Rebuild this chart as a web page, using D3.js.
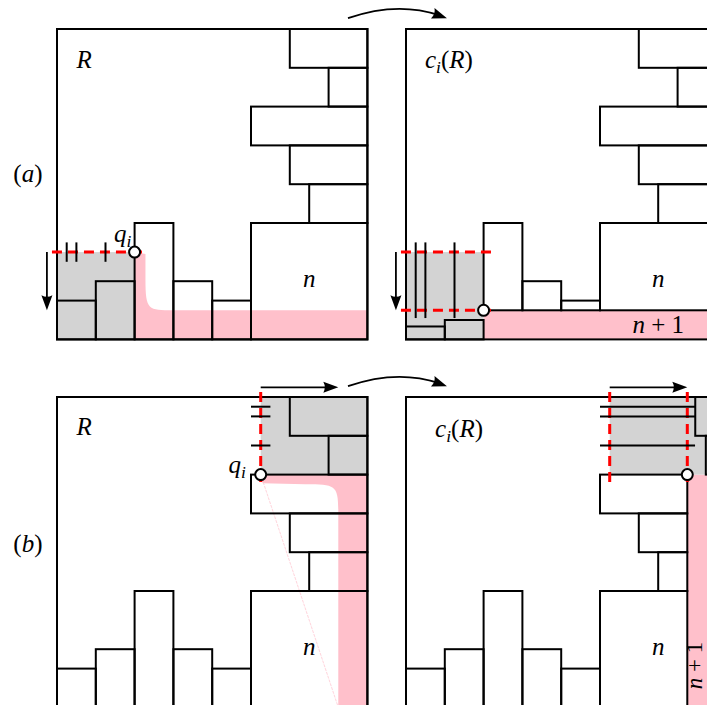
<!DOCTYPE html>
<html>
<head>
<meta charset="utf-8">
<script src="https://cdn.jsdelivr.net/npm/d3@7"></script>
<style>
  body { margin: 0; background: #fff; }
</style>
</head>
<body>
<div id="container"></div>
<script>
const width = 707, height = 705;
const cell = 38.8;   // one grid step in px
const side = 8;      // the square R is 8 x 8 steps

// boxes [x1, y1, x2, y2] in grid steps, y counted down from the top side
const boxesR = [
  [6, 0, 8, 1], [7, 1, 8, 2], [5, 2, 8, 3], [6, 3, 8, 4], [6.5, 4, 8, 5], [5, 5, 8, 8],
  [0, 7, 1, 8], [1, 6.5, 2, 8], [2, 5, 3, 8], [3, 6.5, 4, 8], [4, 7, 5, 8]
];
// c_i(R) in case (a): the strip under q_i is squeezed down
const boxesCa = [
  [6, 0, 8, 1], [7, 1, 8, 2], [5, 2, 8, 3], [6, 3, 8, 4], [6.5, 4, 8, 5], [5, 5, 8, 7.25],
  [0, 7.667, 1, 8], [1, 7.5, 2, 8], [2, 5, 3, 7.25], [3, 6.5, 4, 7.25], [4, 7, 5, 7.25]
];
// c_i(R) in case (b): the strip right of q_i is squeezed to the right
const boxesCb = [
  [7.455, 0, 8, 1], [7.727, 1, 8, 2], [5, 2, 7.25, 3], [6, 3, 7.25, 4], [6.5, 4, 7.25, 5], [5, 5, 7.25, 8],
  [0, 7, 1, 8], [1, 6.5, 2, 8], [2, 5, 3, 8], [3, 6.5, 4, 8], [4, 7, 5, 8]
];

const greyA = [0, 5.75, 2, 8];
const greyB = [5.25, 0, 8, 2];
const pinkCa = [2, 7.25, 8, 8];
const pinkCb = [7.25, 2, 8, 8];
const ticks = [0.25, 0.5, 1.25];
const qA = [2, 5.75], qCa = [2, 7.25], qB = [5.25, 2], qCb = [7.25, 2];
const transition = [[7.5, -0.28], [8.76, -0.72], [10.05, -0.28]];

const svg = d3.select('#container').append('svg')
  .attr('width', width).attr('height', height);

function scales(x0, y0) {
  return [
    d3.scaleLinear().domain([0, side]).range([x0, x0 + side * cell]),
    d3.scaleLinear().domain([0, side]).range([y0, y0 + side * cell])
  ];
}

function rects(g, x, y, data, fill, stroke) {
  g.selectAll(null).data(data).enter().append('rect')
    .attr('x', d => x(d[0]))
    .attr('y', d => y(d[1]))
    .attr('width', d => x(d[2]) - x(d[0]))
    .attr('height', d => y(d[3]) - y(d[1]))
    .attr('fill', fill)
    .attr('stroke', stroke)
    .attr('stroke-width', 2);
}

function lines(g, x, y, data, color, w, dash) {
  g.selectAll(null).data(data).enter().append('line')
    .attr('x1', d => x(d[0])).attr('y1', d => y(d[1]))
    .attr('x2', d => x(d[2])).attr('y2', d => y(d[3]))
    .attr('stroke', color)
    .attr('stroke-width', w)
    .attr('stroke-dasharray', dash);
}

function head(g, tip, from) {
  let a = Math.atan2(tip[1] - from[1], tip[0] - from[0]);
  let L = 15, W = 5.5;
  let bx = tip[0] - L * Math.cos(a), by = tip[1] - L * Math.sin(a);
  let px = -Math.sin(a) * W, py = Math.cos(a) * W;
  g.append('path')
    .attr('d', `M${tip[0]},${tip[1]}L${bx + px},${by + py}Q${bx + 3 * Math.cos(a)},${by + 3 * Math.sin(a)} ${bx - px},${by - py}Z`)
    .attr('fill', '#000');
}

function straightArrow(g, x, y, p0, p1) {
  let a = [x(p0[0]), y(p0[1])], b = [x(p1[0]), y(p1[1])];
  let ang = Math.atan2(b[1] - a[1], b[0] - a[0]);
  g.append('line')
    .attr('x1', a[0]).attr('y1', a[1])
    .attr('x2', b[0] - 10 * Math.cos(ang)).attr('y2', b[1] - 10 * Math.sin(ang))
    .attr('stroke', '#000').attr('stroke-width', 1.8);
  head(g, b, a);
}

function curvedArrow(g, x, y, pts) {
  let p = pts.map(d => [x(d[0]), y(d[1])]);
  let path = d3.path();
  path.moveTo(p[0][0], p[0][1]);
  path.quadraticCurveTo(p[1][0], p[1][1], p[2][0] - 8, p[2][1] - 3);
  g.append('path').attr('d', path.toString())
    .attr('fill', 'none').attr('stroke', '#000').attr('stroke-width', 1.8);
  head(g, p[2], p[1]);
}

function circle(g, x, y, q) {
  g.append('circle')
    .attr('cx', x(q[0])).attr('cy', y(q[1])).attr('r', 5.5)
    .attr('fill', '#fff').attr('stroke', '#000').attr('stroke-width', 2);
}

// parts: [string, italic, subscript]
function mathText(g, px, py, parts, anchor, size) {
  size = size || 25;
  let t = g.append('text').attr('x', px).attr('y', py)
    .attr('text-anchor', anchor || 'start')
    .attr('font-family', "'Liberation Serif', 'DejaVu Serif', serif")
    .attr('font-size', size)
    .attr('fill', '#000');
  let sub = false;
  parts.forEach(([s, it, sb]) => {
    let ts = t.append('tspan').text(s)
      .attr('font-style', it ? 'italic' : 'normal');
    if (sb) { ts.attr('dy', 5).attr('font-size', size * 0.7); sub = true; }
    else if (sub) { ts.attr('dy', -5); sub = false; }
  });
  return t;
}

const red = '#ff0000', pink = '#ffc0cb', grey = '#d3d3d3';
const dash = '10,6';

// ---------- (a) R ----------
{
  const [x, y] = scales(57, 29);
  const g = svg.append('g');
  // pink L from q_i down and along the bottom
  let p = d3.path();
  p.moveTo(x(2), y(5.75));
  p.lineTo(x(2.28), y(5.8));
  p.lineTo(x(2.28), y(6.45));
  p.bezierCurveTo(x(2.28), y(7.25), x(2.35), y(7.25), x(3.0), y(7.25));
  p.lineTo(x(8), y(7.25));
  p.lineTo(x(8), y(8));
  p.lineTo(x(2), y(8));
  p.closePath();
  g.append('path').attr('d', p.toString()).attr('fill', pink);
  rects(g, x, y, [greyA], grey, 'none');
  rects(g, x, y, boxesR, 'none', '#000');
  rects(g, x, y, [[0, 0, 8, 8]], 'none', '#000');
  lines(g, x, y, [[-0.13, 5.75, 2.25, 5.75]], red, 3, dash);
  lines(g, x, y, ticks.map(t => [t, 5.5, t, 6.0]), '#000', 2);
  straightArrow(g, x, y, [-0.26, 5.75], [-0.26, 7.25]);
  circle(g, x, y, qA);
  curvedArrow(g, x, y, transition);
  mathText(g, x(0.5), y(1.0), [['R', true]]);
  mathText(g, x(6.5), y(6.65), [['n', true]], 'middle');
  mathText(g, x(1.92), y(5.49), [['q', true], ['i', true, true]], 'end');
  mathText(g, x(-0.75), y(3.95), [['(', false], ['a', true], [')', false]], 'middle');
}

// ---------- (a) c_i(R) ----------
{
  const [x, y] = scales(406, 29);
  const g = svg.append('g');
  rects(g, x, y, [pinkCa], pink, 'none');
  rects(g, x, y, [greyA], grey, 'none');
  rects(g, x, y, boxesCa, 'none', '#000');
  rects(g, x, y, [[0, 0, 8, 8]], 'none', '#000');
  lines(g, x, y, [[-0.13, 5.75, 2.25, 5.75], [-0.13, 7.25, 2.25, 7.25]], red, 3, dash);
  lines(g, x, y, ticks.map(t => [t, 5.5, t, 7.45]), '#000', 2);
  straightArrow(g, x, y, [-0.26, 5.75], [-0.26, 7.25]);
  circle(g, x, y, qCa);
  mathText(g, x(0.49), y(1.0), [['c', true], ['i', true, true], ['(', false], ['R', true], [')', false]]);
  mathText(g, x(6.5), y(6.65), [['n', true]], 'middle');
  mathText(g, x(6.5), y(7.84), [['n', true], [' + 1', false]], 'middle');
}

// ---------- (b) R ----------
{
  const [x, y] = scales(57, 397);
  const g = svg.append('g');
  let p = d3.path();
  p.moveTo(x(5.25), y(2));
  p.lineTo(x(8), y(2));
  p.lineTo(x(8), y(8));
  p.lineTo(x(7.25), y(8));
  p.lineTo(x(7.25), y(2.95));
  p.bezierCurveTo(x(7.25), y(2.27), x(7.18), y(2.25), x(6.4), y(2.25));
  p.lineTo(x(5.3), y(2.22));
  p.closePath();
  g.append('path').attr('d', p.toString()).attr('fill', pink);
  lines(g, x, y, [[qB[0], qB[1], 7.25, 8]], pink, 0.7, '3,1');
  rects(g, x, y, [greyB], grey, 'none');
  rects(g, x, y, boxesR, 'none', '#000');
  rects(g, x, y, [[0, 0, 8, 8]], 'none', '#000');
  lines(g, x, y, [[5.25, -0.13, 5.25, 2.25]], red, 3, dash);
  lines(g, x, y, ticks.map(t => [5.0, t, 5.5, t]), '#000', 2);
  straightArrow(g, x, y, [5.25, -0.25], [7.25, -0.25]);
  circle(g, x, y, qB);
  curvedArrow(g, x, y, transition);
  mathText(g, x(0.5), y(0.98), [['R', true]]);
  mathText(g, x(6.5), y(6.65), [['n', true]], 'middle');
  mathText(g, x(4.87), y(1.96), [['q', true], ['i', true, true]], 'end');
  mathText(g, x(-0.75), y(4.0), [['(', false], ['b', true], [')', false]], 'middle');
}

// ---------- (b) c_i(R) ----------
{
  const [x, y] = scales(406, 397);
  const g = svg.append('g');
  rects(g, x, y, [pinkCb], pink, 'none');
  rects(g, x, y, [greyB], grey, 'none');
  rects(g, x, y, boxesCb, 'none', '#000');
  rects(g, x, y, [[0, 0, 8, 8]], 'none', '#000');
  lines(g, x, y, [[5.25, -0.13, 5.25, 2.25], [7.25, -0.13, 7.25, 2.25]], red, 3, dash);
  lines(g, x, y, ticks.map(t => [5.0, t, 7.45, t]), '#000', 2);
  straightArrow(g, x, y, [5.25, -0.25], [7.25, -0.25]);
  circle(g, x, y, qCb);
  mathText(g, x(0.75), y(1.03), [['c', true], ['i', true, true], ['(', false], ['R', true], [')', false]]);
  mathText(g, x(6.5), y(6.65), [['n', true]], 'middle');
  mathText(g, 0, 0, [['n', true], [' + 1', false]], 'middle', 23)
    .attr('transform', `translate(${x(7.64)},${y(6.92)}) rotate(-90)`);
}
</script>
</body>
</html>
